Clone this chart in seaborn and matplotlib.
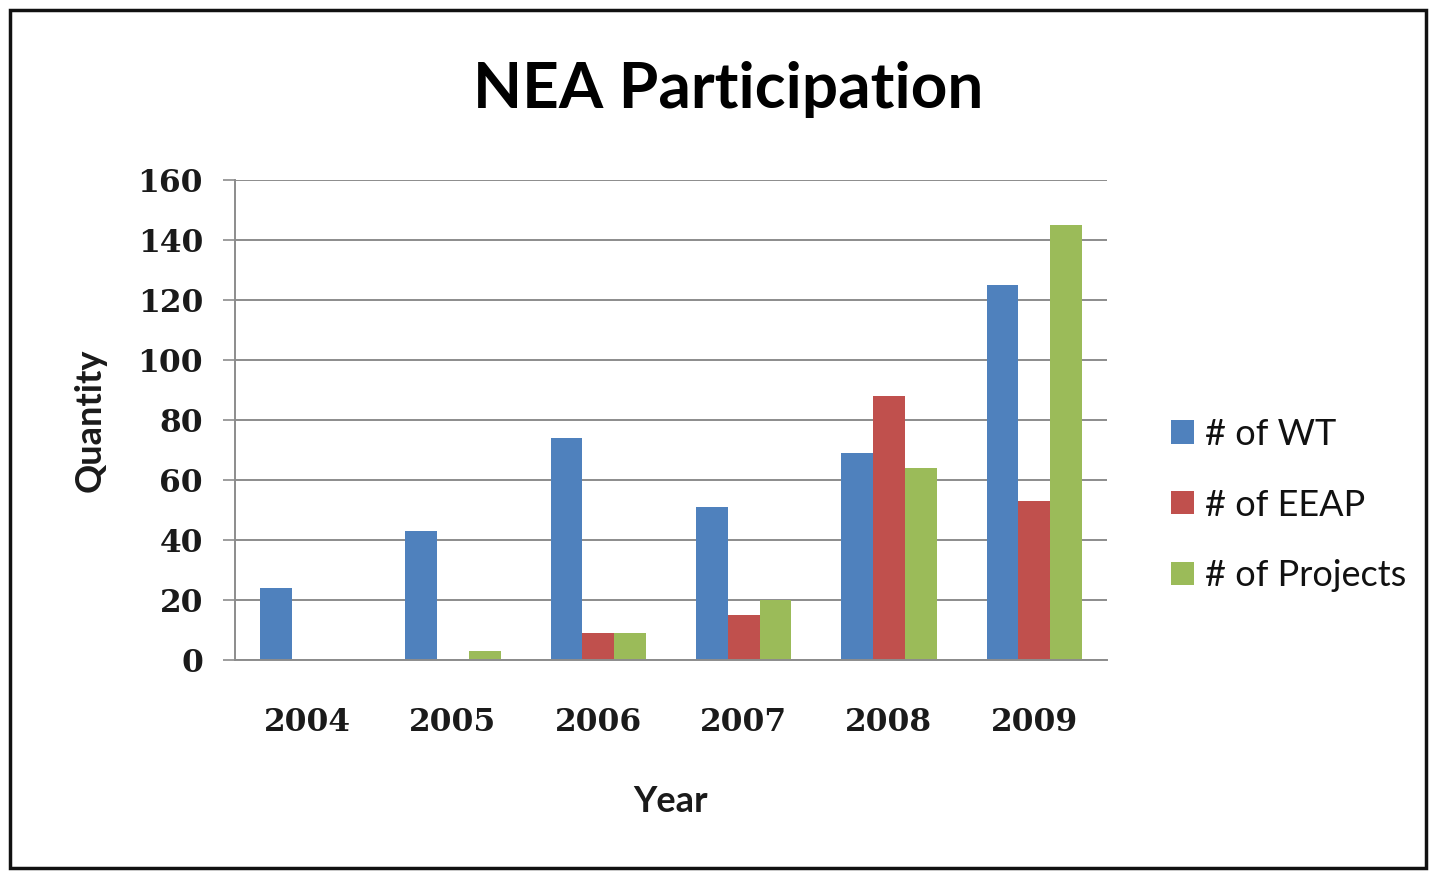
import matplotlib
matplotlib.use("Agg")
import matplotlib.pyplot as plt
import seaborn as sns
import pandas as pd
from matplotlib.patches import Rectangle, Patch

years = ["2004", "2005", "2006", "2007", "2008", "2009"]
series_names = ["# of WT", "# of EEAP", "# of Projects"]
wt = [24, 43, 74, 51, 69, 125]
eeap = [0, 0, 9, 15, 88, 53]
projects = [0, 3, 9, 20, 64, 145]
colors = ["#4F81BD", "#C0504D", "#9BBB59"]
yticks = [0, 20, 40, 60, 80, 100, 120, 140, 160]

rows = []
for name, vals in zip(series_names, [wt, eeap, projects]):
    for y, v in zip(years, vals):
        rows.append({"Year": y, "Series": name, "Quantity": v})
df = pd.DataFrame(rows)

sns.set_theme(style="white")
plt.rcParams["font.family"] = ["Lato", "DejaVu Sans"]

fig = plt.figure(figsize=(14.29, 8.71), dpi=100)
ax = fig.add_axes([235 / 1429, 1 - 660 / 871, (1107 - 235) / 1429, (660 - 180) / 871])

sns.barplot(data=df, x="Year", y="Quantity", hue="Series", order=years,
            hue_order=series_names, palette=colors, width=0.655, dodge=True,
            saturation=1, errorbar=None, ax=ax, legend=False, linewidth=0)

tick_font = dict(fontfamily="DejaVu Serif", fontweight="bold", fontsize=22.5, color="#1a1a1a")
ax.set_xlim(-0.5, 5.5)
ax.set_ylim(0, 160)
ax.set_yticks(yticks)
ax.set_yticklabels([str(t) for t in yticks], **tick_font)
ax.yaxis.grid(True, color="#8c8c8c", linewidth=1.4)
ax.set_axisbelow(True)
ax.set_xticks(range(len(years)))
ax.set_xticklabels(years, **tick_font)
ax.set_xticks([i - 0.5 for i in range(len(years) + 1)], minor=True)
ax.tick_params(axis="x", which="major", length=0, pad=45)
ax.tick_params(axis="x", which="minor", length=9, width=1.2, color="#8c8c8c", direction="out")
ax.tick_params(axis="y", which="major", length=9, width=1.2, color="#8c8c8c",
               direction="out", left=True, pad=14)
for lab in ax.get_xticklabels():
    lab.set_va("center")
for s in ["top", "right"]:
    ax.spines[s].set_visible(False)
for s in ["left", "bottom"]:
    ax.spines[s].set_color("#8c8c8c")
    ax.spines[s].set_linewidth(1.4)

ax.set_xlabel("Year", fontsize=26, fontweight="bold", labelpad=34, color="#1a1a1a")
ax.set_ylabel("Quantity", fontsize=26, fontweight="bold", labelpad=22, color="#1a1a1a")

fig.text(728 / 1429, 1 - 90 / 871, "NEA Participation", ha="center", va="center",
         fontsize=46, fontweight="bold", color="#000000")

handles = [Patch(facecolor=c, edgecolor="none") for c in colors]
fig.legend(handles, series_names, loc="center left",
           bbox_to_anchor=(1157 / 1429, 1 - 505 / 871), frameon=False,
           fontsize=26, handlelength=0.62, handleheight=0.62, handletextpad=0.3,
           labelspacing=1.05, borderaxespad=0, labelcolor="#111111")

fig.patches.append(Rectangle((10 / 1429, 3 / 871), 1416 / 1429, 858 / 871,
                             transform=fig.transFigure, fill=False,
                             edgecolor="#111111", linewidth=2.5))

fig.savefig("out.png", dpi=100)
